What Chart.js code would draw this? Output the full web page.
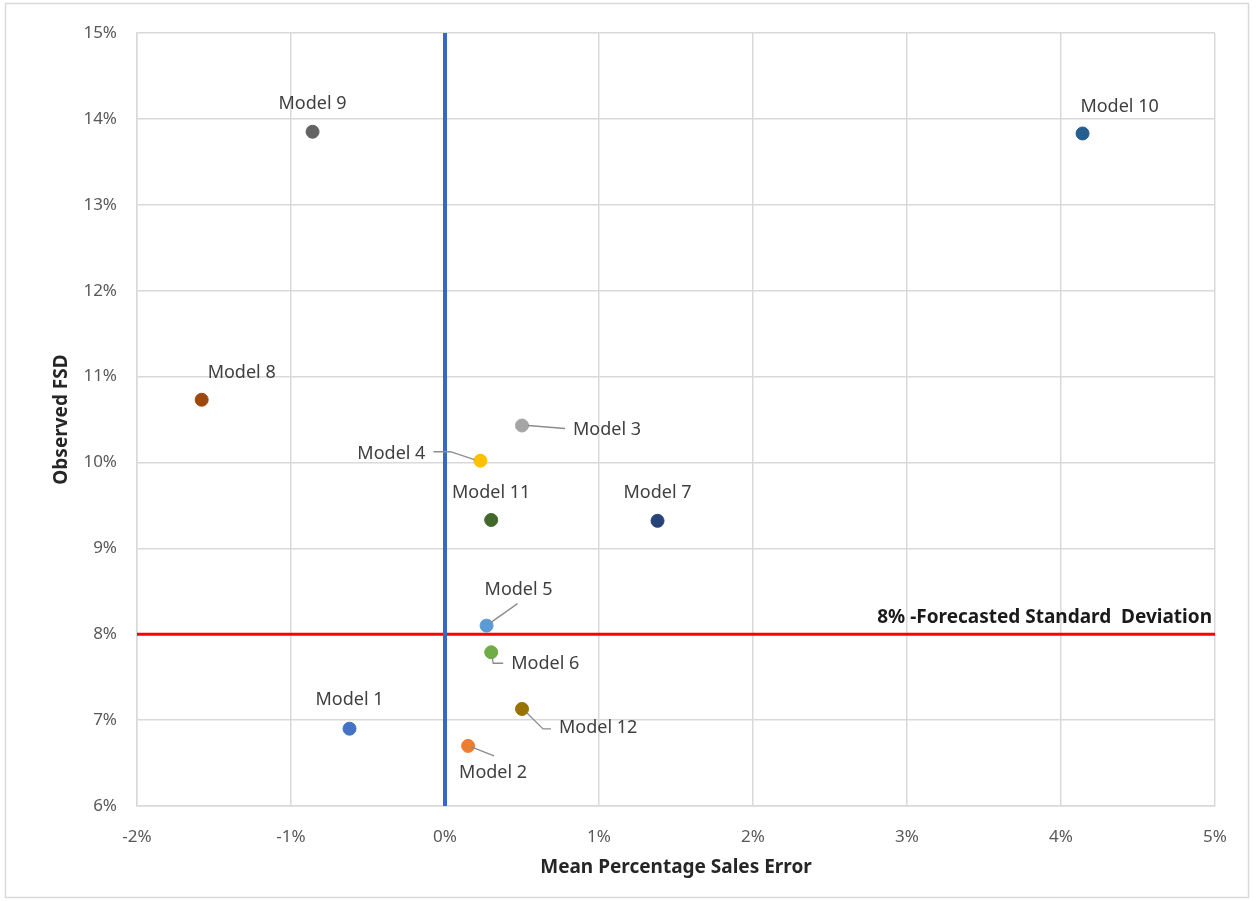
<!DOCTYPE html>
<html>
<head>
<meta charset="utf-8">
<title>Observed FSD vs Mean Percentage Sales Error</title>
<script src="https://cdn.jsdelivr.net/npm/chart.js@4.4.0/dist/chart.umd.min.js"></script>
<style>
  html, body { margin: 0; padding: 0; background: #fff; }
  #wrap { width: 1256px; height: 901px; position: relative; }
</style>
</head>
<body>
<div id="wrap"><canvas id="myChart" width="1256" height="901"></canvas></div>
<script>
// data (percent units)
const models = ["Model 1", "Model 2", "Model 3", "Model 4", "Model 5", "Model 6",
  "Model 7", "Model 8", "Model 9", "Model 10", "Model 11", "Model 12"];
const salesError = [-0.62, 0.15, 0.50, 0.23, 0.27, 0.30, 1.38, -1.58, -0.86, 4.14, 0.30, 0.50];
const observedFsd = [6.90, 6.70, 10.43, 10.02, 8.10, 7.79, 9.32, 10.73, 13.85, 13.83, 9.33, 7.13];
const xTicks = [-2, -1, 0, 1, 2, 3, 4, 5];
const yTicks = [6, 7, 8, 9, 10, 11, 12, 13, 14, 15];
const forecastSd = 8;
const forecastLabel = "8% -Forecasted Standard  Deviation";

const pointColors = ["#4472C4", "#ED7D31", "#A5A5A5", "#FFC000", "#5B9BD5", "#70AD47",
  "#264478", "#9E480E", "#636363", "#255E91", "#43682B", "#997300"];

// label offsets from the point (pixels) and leader lines
const labelPlace = [
  { dx: 0, dy: -29, align: "center" },
  { dx: 25, dy: 27, align: "center", leader: [[3, 1], [26, 10]] },
  { dx: 51, dy: 4, align: "left", leader: [[6, 0], [43, 3]] },
  { dx: -55, dy: -7, align: "right", leader: [[-47, -9], [-30, -9], [-6, -1]] },
  { dx: 32, dy: -36, align: "center", leader: [[4, -3], [31, -22]] },
  { dx: 20, dy: 12, align: "left", leader: [[1, 5], [2, 11], [12, 11]] },
  { dx: 0, dy: -28, align: "center" },
  { dx: 40, dy: -27, align: "center" },
  { dx: 0, dy: -28, align: "center" },
  { dx: 37, dy: -27, align: "center" },
  { dx: 0, dy: -27, align: "center" },
  { dx: 37, dy: 19, align: "left", leader: [[5, 4], [21, 20], [29, 20]] },
];

const fontFamily = "'Noto Sans', 'Open Sans', sans-serif";

const frameAndLabels = {
  id: "frameAndLabels",
  beforeDraw(chart) {
    const ctx = chart.ctx;
    ctx.save();
    ctx.fillStyle = "#fff";
    ctx.fillRect(0, 0, chart.width, chart.height);
    ctx.strokeStyle = "#d9d9d9";
    ctx.lineWidth = 1.5;
    ctx.strokeRect(5.5, 3.5, 1243, 894);
    ctx.restore();
  },
  afterDatasetsDraw(chart) {
    const ctx = chart.ctx;
    const meta = chart.getDatasetMeta(2);
    ctx.save();
    ctx.font = "18px " + fontFamily;
    ctx.textBaseline = "middle";
    meta.data.forEach((pt, i) => {
      const p = labelPlace[i];
      if (p.leader) {
        ctx.strokeStyle = "#8c8c8c";
        ctx.lineWidth = 1.3;
        ctx.beginPath();
        p.leader.forEach((l, k) => {
          if (k === 0) ctx.moveTo(pt.x + l[0], pt.y + l[1]);
          else ctx.lineTo(pt.x + l[0], pt.y + l[1]);
        });
        ctx.stroke();
      }
      ctx.fillStyle = "#404040";
      ctx.textAlign = p.align;
      ctx.fillText(models[i], pt.x + p.dx, pt.y + p.dy);
    });
    // forecast line label
    const xs = chart.scales.x, ys = chart.scales.y;
    ctx.font = "bold 19px " + fontFamily;
    ctx.fillStyle = "#1a1a1a";
    ctx.textAlign = "right";
    ctx.textBaseline = "alphabetic";
    ctx.fillText(forecastLabel, xs.right - 3, ys.getPixelForValue(forecastSd) - 11);
    ctx.restore();
  },
};

const xMin = xTicks[0], xMax = xTicks[xTicks.length - 1];
const yMin = yTicks[0], yMax = yTicks[yTicks.length - 1];

const data = {
  datasets: [
    {
      type: "line",
      label: "Forecasted SD",
      data: [{ x: xMin, y: forecastSd }, { x: xMax, y: forecastSd }],
      borderColor: "#FF0000",
      borderWidth: 3,
      pointRadius: 0,
      order: 3,
    },
    {
      type: "line",
      label: "Zero error",
      data: [{ x: 0, y: yMin }, { x: 0, y: yMax }],
      borderColor: "#3A66C8",
      borderWidth: 4,
      pointRadius: 0,
      order: 2,
    },
    {
      type: "scatter",
      label: "Models",
      data: models.map((m, i) => ({ x: salesError[i], y: observedFsd[i] })),
      backgroundColor: pointColors,
      borderColor: pointColors,
      pointRadius: 6.5,
      pointHoverRadius: 6.5,
      order: 1,
    },
  ],
};

const config = {
  type: "scatter",
  data,
  plugins: [frameAndLabels],
  options: {
    responsive: false,
    animation: false,
    layout: { padding: { left: 0, right: 41, top: 33, bottom: 0 } },
    plugins: { legend: { display: false }, tooltip: { enabled: false } },
    scales: {
      x: {
        type: "linear",
        min: xMin,
        max: xMax,
        afterBuildTicks: s => { s.ticks = xTicks.map(v => ({ value: v })); },
        afterFit: s => { s.height = 95; },
        grid: { color: "#d9d9d9", lineWidth: 1.5, drawTicks: false },
        border: { color: "#d9d9d9", width: 1.5 },
        ticks: {
          padding: 21,
          color: "#595959",
          font: { family: fontFamily, size: 17 },
          callback: v => v + "%",
        },
        title: {
          display: true,
          text: "Mean Percentage Sales Error",
          color: "#262626",
          font: { family: fontFamily, size: 19, weight: "bold" },
          padding: { top: 0, bottom: 22 },
        },
      },
      y: {
        type: "linear",
        min: yMin,
        max: yMax,
        afterBuildTicks: s => { s.ticks = yTicks.map(v => ({ value: v })); },
        afterFit: s => { s.width = 137; },
        grid: { color: "#d9d9d9", lineWidth: 1.5, drawTicks: false },
        border: { color: "#d9d9d9", width: 1.5 },
        ticks: {
          padding: 20,
          color: "#595959",
          font: { family: fontFamily, size: 17 },
          callback: v => v + "%",
        },
        title: {
          display: true,
          text: "Observed FSD",
          color: "#262626",
          font: { family: fontFamily, size: 19, weight: "bold" },
          padding: { top: 50, bottom: 0 },
        },
      },
    },
  },
};

const myChart = new Chart(document.getElementById("myChart"), config);
</script>
</body>
</html>
